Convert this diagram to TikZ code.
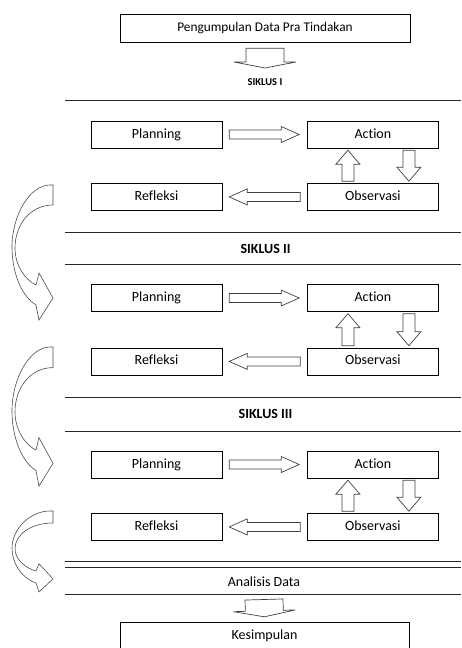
\documentclass[tikz,border=0pt]{standalone}
\usepackage{fontspec}
\setmainfont{Carlito}[Ligatures=NoCommon]
\usetikzlibrary{positioning,calc}

\tikzset{
  cyclearrow/.pic={
    \draw[curve] (-3,0) -- (0,0) -- (0,20)
      .. controls (-23,20) and (-38,40) .. (-38,63)
      .. controls (-38,80) and (-28,95) .. (-17,100)
      -- (-14,88) -- (0,113) -- (-14,135) -- (-17,120)
      .. controls (-33,110) and (-41,85) .. (-41,62)
      .. controls (-41,30) and (-23,0) .. cycle;
  }
}

\begin{document}
\begin{tikzpicture}[
      x=1pt, y=-1pt,
      font=\fontsize{14}{16}\selectfont,
      box/.style={draw, minimum width=131pt, minimum height=27pt, inner sep=0pt,
        text height=9.5pt, text depth=2.5pt},
      wide/.style={box, minimum width=289pt, minimum height=28pt},
      title/.style={inner sep=0pt, font=\fontsize{14}{16}\selectfont\bfseries},
      rule/.style={line width=0.8pt, black!85},
      curve/.style={line width=0.6pt, black!70},
      fat/.style n args={3}{line width=0.7pt, draw=black!75, to path={
        ($(\tikztostart)!#1!90:(\tikztotarget)$)
        -- ($(\tikztotarget)!#3!(\tikztostart)!#1!90:(\tikztotarget)$)
        -- ($(\tikztotarget)!#3!(\tikztostart)!#2!90:(\tikztotarget)$)
        -- (\tikztotarget)
        -- ($(\tikztotarget)!#3!(\tikztostart)!#2!-90:(\tikztotarget)$)
        -- ($(\tikztotarget)!#3!(\tikztostart)!#1!-90:(\tikztotarget)$)
        -- ($(\tikztostart)!#1!-90:(\tikztotarget)$) -- cycle}},
      side/.style={fat={4.5pt}{8pt}{18pt}},
      updown/.style={fat={6pt}{12pt}{14pt}},
      drop/.style={fat={19pt}{31pt}{6pt}}
    ]
    \useasboundingbox (0,0) rectangle (461,648);

    \node[wide, minimum width=290pt, font=\fontsize{13.3}{15}\selectfont] (pra) at (265,28) {Pengumpulan Data Pra Tindakan};
    \node[title, font=\fontsize{10.5}{12}\selectfont\bfseries] (s1) at (265,82.5) {SIKLUS I};
    \draw[drop] ([yshift=-6pt]pra.south) to ([yshift=14.5pt]s1.center);
    \draw[rule] (65,100) -- (461,100);

    % siklus I
    \node[box] (plan1) at (156.5,134.5) {Planning};
    \node[box, right=85pt of plan1] (act1) {Action};
    \node[box, below=35pt of act1] (obs1) {Observasi};
    \node[box, below=35pt of plan1] (refl1) {Refleksi};
    \draw[side] ([xshift=7pt]plan1.east) to ([xshift=-8pt]act1.west);
    \draw[updown] ([xshift=-25pt,yshift=2pt]obs1.north) to ([xshift=-25pt,yshift=-2pt]act1.south);
    \draw[updown] ([xshift=36pt,yshift=-2pt]act1.south) to ([xshift=36pt,yshift=2pt]obs1.north);
    \draw[side] ([xshift=-7pt]obs1.west) to ([xshift=7pt]refl1.east);
    \pic at (53,185) {cyclearrow};

    % siklus II
    \draw[rule] (65,232) -- (461,232);
    \node[title] (s2) at (265.5,248.5) {SIKLUS II};
    \draw[rule] (65,264) -- (461,264);
    \node[box] (plan2) at (156.5,298) {Planning};
    \node[box, right=85pt of plan2] (act2) {Action};
    \node[box, below=36pt of act2] (obs2) {Observasi};
    \node[box, below=36pt of plan2] (refl2) {Refleksi};
    \draw[side] ([xshift=7pt]plan2.east) to ([xshift=-8pt]act2.west);
    \draw[updown] ([xshift=-25pt,yshift=2pt]obs2.north) to ([xshift=-25pt,yshift=-2pt]act2.south);
    \draw[updown] ([xshift=36pt,yshift=-2pt]act2.south) to ([xshift=36pt,yshift=2pt]obs2.north);
    \draw[side] ([xshift=-7pt]obs2.west) to ([xshift=7pt]refl2.east);
    \pic[yscale=1.03] at (53,347) {cyclearrow};

    % siklus III
    \draw[rule] (65,397) -- (461,397);
    \node[title] (s3) at (265.5,414) {SIKLUS III};
    \draw[rule] (65,431) -- (461,431);
    \node[box] (plan3) at (156.5,464.5) {Planning};
    \node[box, right=85pt of plan3] (act3) {Action};
    \node[box, below=35pt of act3] (obs3) {Observasi};
    \node[box, below=35pt of plan3] (refl3) {Refleksi};
    \draw[side] ([xshift=7pt]plan3.east) to ([xshift=-8pt]act3.west);
    \draw[updown] ([xshift=-25pt,yshift=2pt]obs3.north) to ([xshift=-25pt,yshift=-2pt]act3.south);
    \draw[updown] ([xshift=36pt,yshift=-2pt]act3.south) to ([xshift=36pt,yshift=2pt]obs3.north);
    \draw[side] ([xshift=-7pt]obs3.west) to ([xshift=7pt]refl3.east);
    \pic[yscale=0.6] at (53,511) {cyclearrow};

    % analisis
    \draw[rule] (65,561) -- (461,561);
    \draw[rule] (65,567) -- (461,567);
    \node[inner sep=0pt] (ana) at (264,581.5) {Analisis Data};
    \draw[rule] (65,594) -- (461,594);
    \node[wide] (kes) at (264.5,636) {Kesimpulan};
    \draw[drop] ([yshift=-18pt]ana.center) to ([yshift=5pt]kes.north);
  \end{tikzpicture}
\end{document}
